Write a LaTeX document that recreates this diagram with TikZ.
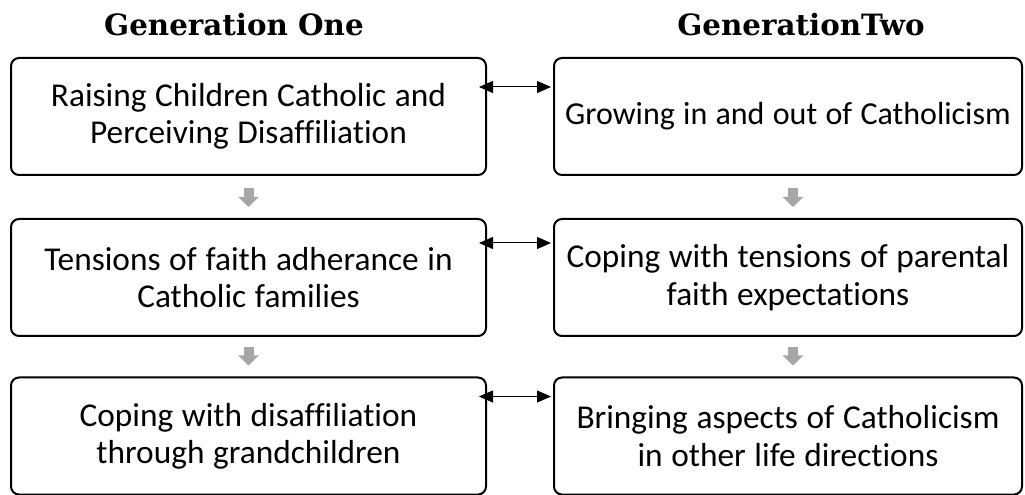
\documentclass[tikz,border=0pt]{standalone}
\usepackage{fontspec}
\setmainfont{Carlito}[Ligatures=NoCommon, WordSpace=1.15]
\newfontfamily\headfont{DejaVu Serif}
\usetikzlibrary{arrows.meta,calc}
\definecolor{arrowgray}{HTML}{A6A6A6}
\begin{document}
\begin{tikzpicture}[x=0.75pt,y=-0.75pt,
  box/.style={draw=black, line width=1.5pt, rounded corners=6pt, align=center,
    minimum height=87.75pt, inner sep=2pt,
    font=\fontsize{25pt}{28pt}\selectfont},
  lbox/.style={box, minimum width=356.25pt},
  rbox/.style={box, minimum width=351pt},
  head/.style={font=\headfont\bfseries\fontsize{22pt}{26pt}\selectfont, inner sep=0pt},
  dbl/.style={line width=0.75pt, {Triangle[length=10.5pt,width=9pt]}-{Triangle[length=10.5pt,width=9pt]}},
  down/.style={arrowgray, line width=7.5pt, -{Triangle[length=7.5pt,width=15pt]}}]
\useasboundingbox (0,0) rectangle (1025,495);

\node[head] (h1) at (234,25) {Generation One};
\node[head] (h2) at (801,25) {GenerationTwo};

\node[lbox] (L1) at (248.5,116.5) {Raising Children Catholic and\\Perceiving Disaffiliation};
\node[lbox] (L2) at (248.5,277.5) {Tensions of faith adherance in\\Catholic families};
\node[lbox] (L3) at (248.5,436) {Coping with disaffiliation\\through grandchildren};

\node[rbox, font=\fontsize{24pt}{28pt}\selectfont] (R1) at (788,116.5) {Growing in and out of Catholicism};
\node[rbox] (R2) at (788,277.5) {Coping with tensions of parental\\faith expectations};
\node[rbox] (R3) at (788,436) {Bringing aspects of Catholicism\\in other life directions};

\draw[dbl] ($(L1.north east)+(-8,30)$) -- ($(R1.north west)+(-2,30)$);
\draw[dbl] ($(L2.north east)+(-8,25)$) -- ($(R2.north west)+(-2,25)$);
\draw[dbl] ($(L3.north east)+(-8,20)$) -- ($(R3.north west)+(-2,20)$);

\draw[down] ($(L1.south)+(0,12)$) -- ($(L2.north)+(0,-11)$);
\draw[down] ($(L2.south)+(0,10)$) -- ($(L3.north)+(0,-11)$);
\draw[down] ($(R1.south)+(5,12)$) -- ($(R2.north)+(5,-11)$);
\draw[down] ($(R2.south)+(5,10)$) -- ($(R3.north)+(5,-11)$);
\end{tikzpicture}
\end{document}
